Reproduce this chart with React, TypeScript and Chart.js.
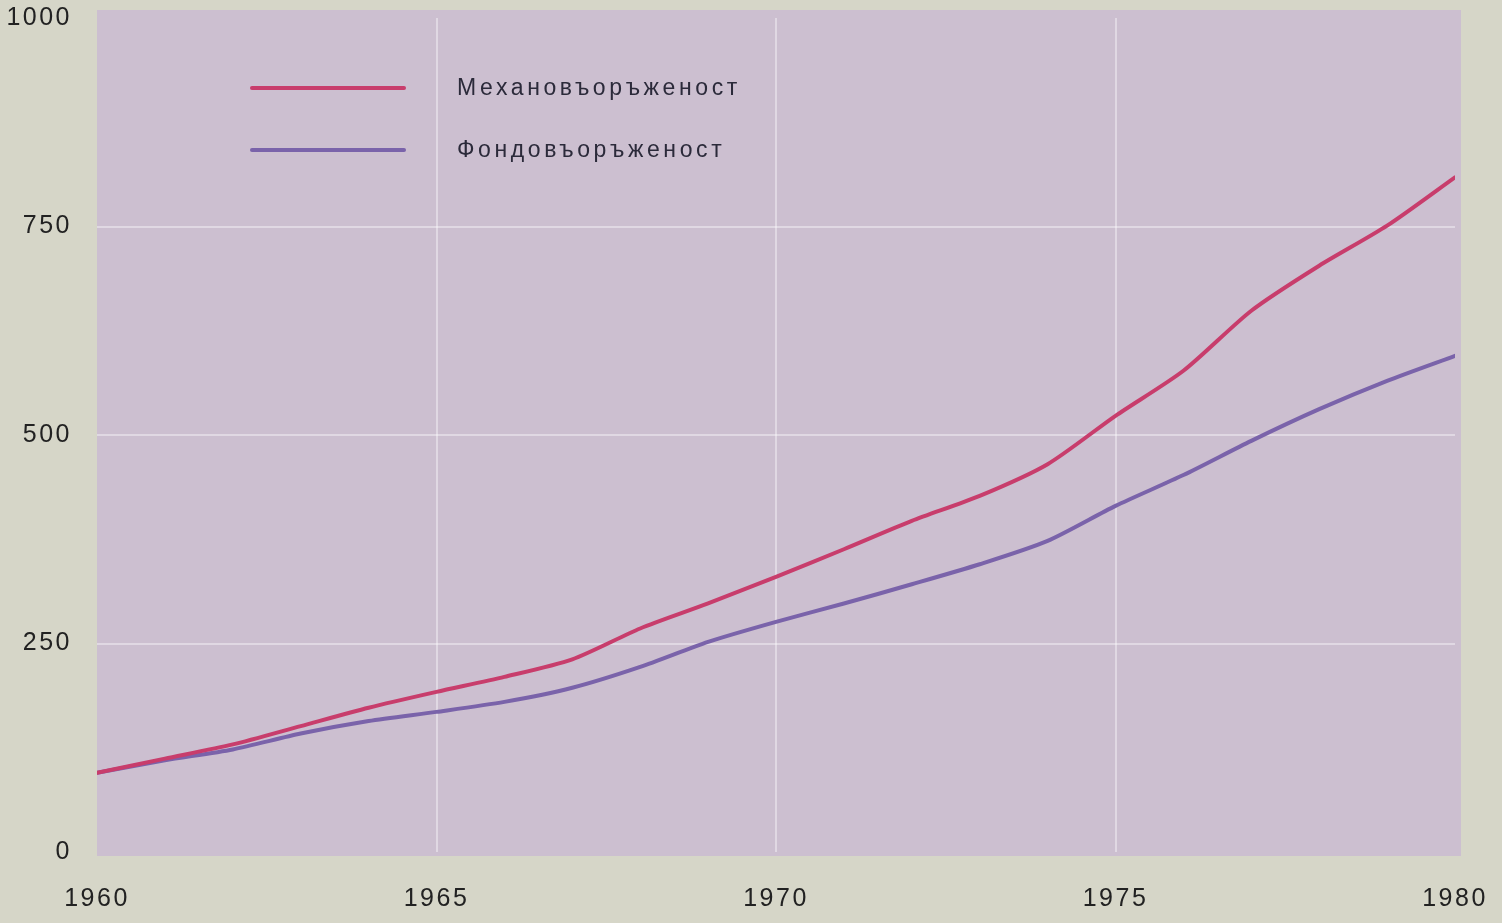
import React, { useEffect, useRef } from "react";
import { Chart, registerables } from "chart.js";

Chart.register(...registerables);

const years = [1960, 1961, 1962, 1963, 1964, 1965, 1966, 1967, 1968, 1969, 1970, 1971, 1972, 1973, 1974, 1975, 1976, 1977, 1978, 1979, 1980];
const mechanization = [95, 112, 129, 151, 173, 192, 210, 231, 268, 298, 330, 363, 397, 427, 465, 523, 577, 649, 703, 751, 809];
const capitalEquipment = [95, 110, 123, 142, 157, 168, 180, 197, 222, 252, 276, 298, 321, 345, 373, 415, 452, 493, 531, 565, 595];
const seriesLabels = ["Механовъоръженост", "Фондовъоръженост"];
const seriesColors = ["#c83d6c", "#7a63aa"];
const yTicks = [0, 250, 500, 750, 1000];
const xTicks = [1960, 1965, 1970, 1975, 1980];

const PAGE_BG = "#d6d6c8";
const PLOT_BG = "#ccbfd0";

const bgPlugin = {
  id: "bgPlugin",
  beforeDraw(chart: any) {
    const { ctx, chartArea } = chart;
    ctx.save();
    ctx.fillStyle = PAGE_BG;
    ctx.fillRect(0, 0, chart.width, chart.height);
    ctx.fillStyle = PLOT_BG;
    ctx.fillRect(chartArea.left, chartArea.top - 8, chartArea.right - chartArea.left + 6, chartArea.bottom - chartArea.top + 12);
    ctx.restore();
    try {
      (ctx as any).letterSpacing = "2.5px";
    } catch (e) {}
  },
};

const legendPlugin = {
  id: "customLegend",
  afterDatasetsDraw(chart: any) {
    const { ctx } = chart;
    ctx.save();
    chart.data.datasets.forEach((ds: any, i: number) => {
      const y = 88 + i * 62;
      ctx.strokeStyle = ds.borderColor;
      ctx.lineWidth = 4;
      ctx.lineCap = "round";
      ctx.beginPath();
      ctx.moveTo(252, y);
      ctx.lineTo(404, y);
      ctx.stroke();
      ctx.fillStyle = "#2b2a3a";
      ctx.font = "23px 'Liberation Sans', Arial, sans-serif";
      try {
        (ctx as any).letterSpacing = "3.6px";
      } catch (e) {}
      ctx.textBaseline = "middle";
      ctx.textAlign = "left";
      ctx.fillText(ds.label, 457, y + 1);
    });
    ctx.restore();
  },
};

export default function App() {
  const ref = useRef<HTMLCanvasElement | null>(null);

  useEffect(() => {
    document.body.style.margin = "0";
    document.body.style.background = PAGE_BG;
    if (!ref.current) return;
    const tickFont = { family: "'Liberation Sans', Arial, sans-serif", size: 25 };
    const chart = new Chart(ref.current, {
      type: "line",
      data: {
        datasets: [
          {
            label: seriesLabels[0],
            data: years.map((x, i) => ({ x, y: mechanization[i] })),
            borderColor: seriesColors[0],
            borderWidth: 4,
            pointRadius: 0,
            tension: 0.25,
            borderCapStyle: "round",
            borderJoinStyle: "round",
          },
          {
            label: seriesLabels[1],
            data: years.map((x, i) => ({ x, y: capitalEquipment[i] })),
            borderColor: seriesColors[1],
            borderWidth: 4,
            pointRadius: 0,
            tension: 0.25,
            borderCapStyle: "round",
            borderJoinStyle: "round",
          },
        ],
      },
      options: {
        animation: false,
        responsive: false,
        maintainAspectRatio: false,
        layout: { padding: { top: 18, right: 47, bottom: 0, left: 8 } },
        plugins: { legend: { display: false }, tooltip: { enabled: false } },
        scales: {
          x: {
            type: "linear",
            min: 1960,
            max: 1980,
            afterBuildTicks: (s: any) => {
              s.ticks = xTicks.map((v) => ({ value: v }));
            },
            afterFit: (s: any) => {
              s.height = 71;
              s.paddingLeft = 0;
              s.paddingRight = 0;
            },
            ticks: {
              font: tickFont,
              color: "#222",
              padding: 32,
              maxRotation: 0,
              callback: (v: any) => String(v),
            },
            grid: {
              drawTicks: false,
              lineWidth: 2,
              color: (c: any) => (c.tick && (c.tick.value === 1960 || c.tick.value === 1980) ? "rgba(0,0,0,0)" : "rgba(255,255,255,0.4)"),
            },
            border: { display: false },
          },
          y: {
            min: 0,
            max: 1000,
            afterBuildTicks: (s: any) => {
              s.ticks = yTicks.map((v) => ({ value: v }));
            },
            afterFit: (s: any) => {
              s.width = 89;
              s.paddingTop = 0;
              s.paddingBottom = 0;
            },
            ticks: {
              font: tickFont,
              color: "#222",
              padding: 25,
              callback: (v: any) => String(v),
            },
            grid: {
              drawTicks: false,
              lineWidth: 2,
              color: (c: any) => (c.tick && (c.tick.value === 0 || c.tick.value === 1000) ? "rgba(0,0,0,0)" : "rgba(255,255,255,0.4)"),
            },
            border: { display: false },
          },
        },
      },
      plugins: [bgPlugin, legendPlugin],
    } as any);
    return () => chart.destroy();
  }, []);

  return (
    <div style={{ width: 1502, height: 923 }}>
      <canvas ref={ref} width={1502} height={923} style={{ display: "block" }} />
    </div>
  );
}
